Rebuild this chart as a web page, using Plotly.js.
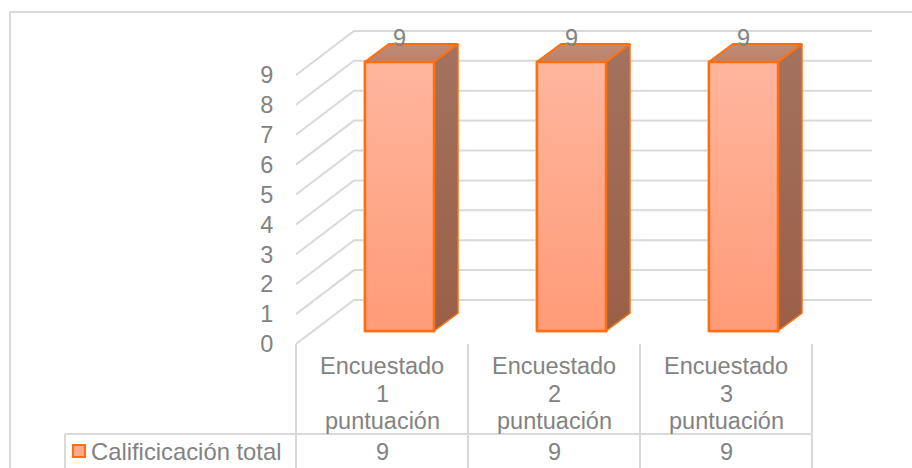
<!DOCTYPE html>
<html>
<head>
<meta charset="utf-8">
<script src="https://cdn.plot.ly/plotly-3.0.1.min.js"></script>
<style>html,body{margin:0;padding:0;background:#fff}#chart{width:912px;height:468px}</style>
</head>
<body>
<div id="chart"></div>
<script>
// Data
const categoryLines = [['Encuestado', '1', 'puntuación'], ['Encuestado', '2', 'puntuación'], ['Encuestado', '3', 'puntuación']];
const positions = [0, 1, 2];
const values = [9, 9, 9];
const seriesName = 'Calificicación total';
const gridLevels = [0, 1, 2, 3, 4, 5, 6, 7, 8, 9];

// Frame geometry in figure pixels
const W = 912, H = 468;
const plot = {l: 296, r: 872, t: 20, b: 344};
const pxX = 172, pxY = 29.9;
const font = 'Liberation Sans, Arial, sans-serif';
const grey = '#828282', rule = '#d9d9d9', edge = '#ff6f0f';
const lineRows = [366, 394, 421];

// Oblique depth in axis units
const wallDX = 58 / pxX, wallDY = 44 / pxY;
const barDX = 24 / pxX, barDY = 18 / pxY;
const barCenter = 17.5 / pxX, barBase = 13 / pxY, barW = 69 / pxX;

const xLeft = -0.5, xRight = xLeft + (plot.r - plot.l) / pxX;
const yTop = (plot.b - plot.t) / pxY;

const traces = [];

// Front faces (drawn under the scatter layers, carries the series)
traces.push({type: 'bar', name: seriesName,
  x: positions.map(p => p + barCenter), y: values, base: barBase, width: barW,
  marker: {color: '#ffa98c', line: {color: edge, width: 2.5}},
  cliponaxis: false, hoverinfo: 'skip', showlegend: false});

// Wall and back gridlines
const gx = [], gy = [];
gridLevels.forEach(v => {
  gx.push(xLeft, xLeft + wallDX, xRight, null);
  gy.push(v, v + wallDY, v + wallDY, null);
});
traces.push({type: 'scatter', mode: 'lines', x: gx, y: gy, cliponaxis: false,
  line: {color: rule, width: 2}, hoverinfo: 'skip', showlegend: false});

function face(xs, ys, c0, c1, lw) {
  traces.push({type: 'scatter', mode: 'lines', x: xs, y: ys, fill: 'toself',
    fillgradient: {type: 'vertical', colorscale: [[0, c0], [1, c1]]},
    line: {color: edge, width: lw}, cliponaxis: false, hoverinfo: 'skip', showlegend: false});
}

positions.forEach((p, i) => {
  const x0 = p + barCenter - barW / 2, x1 = x0 + barW, top = values[i] + barBase, bot = barBase;
  face([x1, x1 + barDX, x1 + barDX, x1, x1], [bot, bot + barDY, top + barDY, top, bot], '#9b5f47', '#a3725e', 1.5);
  face([x0, x0 + barDX, x1 + barDX, x1, x0], [top, top + barDY, top + barDY, top, top], '#bb836e', '#c08a75', 2);
  face([x0, x1, x1, x0, x0], [bot, bot, top, top, bot], '#ff9b78', '#ffb69e', 2.5);
});

// Data labels
traces.push({type: 'scatter', mode: 'text',
  x: positions.map(p => p + barCenter),
  y: values.map(v => v + barBase + 22 / pxY),
  text: values.map(String), textposition: 'middle center',
  textfont: {family: font, size: 23.5, color: grey},
  cliponaxis: false, hoverinfo: 'skip', showlegend: false});

// Data table
const px = v => ({type: 'line', xref: 'paper', yref: 'paper', layer: 'below', line: {color: rule, width: 2}, ...v});
const fx = x => (x - plot.l) / (plot.r - plot.l);
const fy = y => (plot.b - y) / (plot.b - plot.t);
const shapes = [
  px({x0: fx(10), x1: fx(W), y0: fy(12), y1: fy(12)}),
  px({x0: fx(10), x1: fx(10), y0: fy(11), y1: fy(H)}),
  px({x0: fx(65), x1: fx(812), y0: fy(434), y1: fy(434)}),
  px({x0: fx(65), x1: fx(65), y0: fy(434), y1: fy(H)}),
  ...[296, 468, 640, 812].map(x => px({x0: fx(x), x1: fx(x), y0: fy(344), y1: fy(H)})),
  {type: 'rect', xref: 'paper', yref: 'paper', x0: fx(73), x1: fx(85), y0: fy(445), y1: fy(457),
   fillcolor: '#ffa98c', line: {color: edge, width: 2}}
];
const tableFont = {family: font, size: 23.5, color: grey};
const legendFont = {family: font, size: 23.8, color: grey};
const annotations = [
  {text: seriesName, xref: 'paper', yref: 'paper', x: fx(88.5), y: fy(451), xanchor: 'left', yanchor: 'middle',
   showarrow: false, font: legendFont},
  ...positions.map((p, i) => ({text: String(values[i]), xref: 'x', yref: 'paper', x: p, y: fy(452),
    xanchor: 'center', yanchor: 'middle', showarrow: false, font: tableFont})),
  ...positions.flatMap((p, i) => categoryLines[i].map((t, r) => ({text: t, xref: 'x', yref: 'paper', x: p, y: fy(lineRows[r]),
    xanchor: 'center', yanchor: 'middle', showarrow: false, font: tableFont})))
];

Plotly.newPlot('chart', traces, {
  width: W, height: H, autosize: false,
  margin: {l: plot.l, r: W - plot.r, t: plot.t, b: H - plot.b, pad: 0},
  paper_bgcolor: '#fff', plot_bgcolor: 'rgba(0,0,0,0)',
  showlegend: false, hovermode: false, barmode: 'overlay',
  xaxis: {range: [xLeft, xRight], tickmode: 'array', tickvals: positions, showticklabels: false,
    showgrid: false, zeroline: false, showline: false, ticks: ''},
  yaxis: {range: [0, yTop], tickmode: 'array', tickvals: gridLevels, ticktext: gridLevels.map(String),
    showgrid: false, zeroline: false, showline: false, ticks: 'outside', ticklen: 17, tickcolor: 'rgba(0,0,0,0)',
    tickfont: tableFont},
  shapes, annotations
}, {displayModeBar: false, staticPlot: true});
</script>
</body>
</html>
